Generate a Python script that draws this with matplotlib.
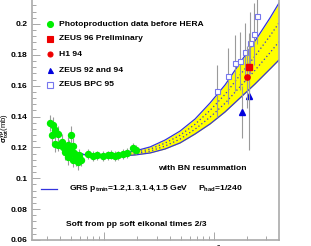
import numpy as np
import matplotlib
matplotlib.use("Agg")
import matplotlib.pyplot as plt
from matplotlib.ticker import FixedLocator, NullFormatter, MultipleLocator

plt.rcParams['font.family'] = ['Liberation Sans', 'DejaVu Sans']
plt.rcParams['mathtext.fontset'] = 'custom'
plt.rcParams['mathtext.rm'] = 'Liberation Sans:bold'
plt.rcParams['mathtext.it'] = 'Liberation Sans:bold'
plt.rcParams['mathtext.bf'] = 'Liberation Sans:bold'

# ---------------- data ----------------
# photoproduction data before HERA
low_s = [3.23, 3.44, 3.37, 3.6, 3.84, 3.6, 3.84, 4.15, 4.24, 4.65, 4.75, 4.96, 5.2,
         4.96, 5.3, 5.55, 5.9, 6.2, 5.8, 4.65, 5.2, 4.42,
         7.2, 7.9, 8.7, 9.8, 10.9, 11.6, 12.6, 13.5, 14.9, 16.2, 18.4, 19.6]
low_sig = [0.1358, 0.1345, 0.1280, 0.1310, 0.1290, 0.1220, 0.1215, 0.1235, 0.1200, 0.1215, 0.1197, 0.1280, 0.1210,
           0.1164, 0.1164, 0.1130, 0.1150, 0.1120, 0.1105, 0.1138, 0.1120, 0.1170,
           0.1157, 0.1145, 0.1150, 0.1145, 0.1150, 0.1152, 0.1145, 0.1148, 0.1157, 0.1164, 0.1197, 0.1185]
low_err = [0.005, 0.005, 0.005, 0.005, 0.005, 0.005, 0.004, 0.005, 0.005, 0.005, 0.005, 0.006, 0.005,
           0.005, 0.005, 0.005, 0.004, 0.004, 0.005, 0.005, 0.005, 0.005,
           0.003, 0.003, 0.003, 0.003, 0.003, 0.003, 0.003, 0.003, 0.003, 0.003, 0.003, 0.003]

zeus96_s, zeus96_sig, zeus96_err = [208.0], [0.172], [0.022]
h1_s, h1_sig, h1_err = [200.0], [0.1656], [0.020]
zeus9294_s, zeus9294_sig, zeus9294_err = [180.0, 208.0], [0.143, 0.1533], [0.017, 0.035]
bpc_s = [106.5, 134.0, 155.0, 172.0, 191.0, 212.0, 231.0, 246.0]
bpc_sig = [0.1566, 0.1663, 0.1747, 0.1760, 0.1818, 0.1877, 0.1935, 0.2052]
bpc_err = [0.017, 0.018, 0.018, 0.019, 0.019, 0.020, 0.020, 0.018]

# GRS band with BN resummation
curve_s = [5.33, 7.46, 10.2, 14.0, 19.1, 26.2, 35.9, 49.1, 67.2, 92.0, 126.0, 172.0, 236.0, 323.0, 390.0]
curve_upper = [0.1164, 0.1148, 0.1144, 0.1157, 0.1177, 0.1203, 0.1248, 0.1306, 0.1384, 0.1488, 0.1605, 0.1747, 0.1890, 0.2039, 0.2136]
curve_mid1 = [0.1164, 0.1148, 0.1143, 0.1152, 0.1168, 0.1189, 0.1228, 0.1279, 0.1350, 0.1440, 0.1544, 0.1668, 0.1792, 0.1923, 0.2007]
curve_mid2 = [0.1164, 0.1148, 0.1142, 0.1148, 0.1159, 0.1176, 0.1209, 0.1254, 0.1318, 0.1396, 0.1486, 0.1593, 0.1700, 0.1814, 0.1885]
curve_lower = [0.1164, 0.1148, 0.1141, 0.1144, 0.1151, 0.1164, 0.1190, 0.1229, 0.1287, 0.1352, 0.1430, 0.1520, 0.1611, 0.1708, 0.1767]

xticks = [10, 100]
xticklabels = ['10', '$10^{2}$']
yticks = [0.06, 0.08, 0.1, 0.12, 0.14, 0.16, 0.18, 0.2]
yticklabels = ['0.06', '0.08', '0.1', '0.12', '0.14', '0.16', '0.18', '0.2']

# ---------------- figure ----------------
W, H = 311, 246
fig = plt.figure(figsize=(W / 100, H / 100), dpi=100)
ax_bottom_px = 6
ylo, yhi = 0.06, 0.22
px_per_unit = 1543.0
ax_h_px = (yhi - ylo) * px_per_unit
ax = fig.add_axes([32 / W, ax_bottom_px / H, (279 - 32) / W, ax_h_px / H])
ax.set_xscale('log')
ax.set_xlim(2.21, 390)
ax.set_ylim(ylo, yhi)

grey = '#9a9a9a'
blue = '#3333dd'

ax.fill_between(curve_s, curve_lower, curve_upper, color='#ffff00', zorder=1, lw=0)
ax.plot(curve_s, curve_upper, color=blue, lw=0.9, zorder=2)
ax.plot(curve_s, curve_lower, color=blue, lw=0.9, zorder=2)
ax.plot(curve_s, curve_mid1, color=blue, lw=0.9, ls=(0, (1, 2)), zorder=2)
ax.plot(curve_s, curve_mid2, color=blue, lw=0.9, ls=(0, (1, 2)), zorder=2)

ax.errorbar(low_s, low_sig, yerr=low_err, fmt='o', ms=4.3, color='#00ee00', mec='#00ee00',
            ecolor=grey, elinewidth=0.8, capsize=0, zorder=3)
ax.errorbar(bpc_s, bpc_sig, yerr=bpc_err, fmt='s', ms=3.6, mfc='white', mec='#7777ee', mew=0.8,
            ecolor=grey, elinewidth=0.8, capsize=0, zorder=3)
ax.errorbar(zeus9294_s, zeus9294_sig, yerr=zeus9294_err, fmt='^', ms=3.8, color='#0000dd',
            ecolor=grey, elinewidth=0.8, capsize=0, zorder=3)
ax.errorbar(h1_s, h1_sig, yerr=h1_err, fmt='o', ms=3.8, color='#ee0000',
            ecolor=grey, elinewidth=0.8, capsize=0, zorder=4)
ax.errorbar(zeus96_s, zeus96_sig, yerr=zeus96_err, fmt='s', ms=4.0, color='#ee0000',
            ecolor=grey, elinewidth=0.8, capsize=0, zorder=4)

# axes styling
for side in ['left', 'bottom', 'right', 'top']:
    ax.spines[side].set_color('#aaaaaa')
    ax.spines[side].set_linewidth(1.2)
ax.set_xticks(xticks)
ax.set_xticklabels(xticklabels, fontsize=6.1, fontweight='bold')
ax.xaxis.set_minor_locator(FixedLocator([m * d for d in [1, 10, 100] for m in range(2, 10)]))
ax.xaxis.set_minor_formatter(NullFormatter())
ax.set_yticks(yticks)
ax.set_yticklabels(yticklabels, fontsize=6.1, fontweight='bold')
ax.yaxis.set_minor_locator(MultipleLocator(0.004))
ax.tick_params(axis='both', which='both', direction='in', color='#999999', width=0.6,
               top=False, right=False)
ax.tick_params(axis='x', which='major', length=6, pad=9.0)
ax.tick_params(axis='x', which='minor', length=3)
ax.tick_params(axis='y', which='major', length=6, pad=3.3)
ax.tick_params(axis='y', which='minor', length=3)
for lbl in ax.get_xticklabels():
    lbl.set_verticalalignment('baseline')

def fx(x):
    return x / W

def fy(y):
    return 1 - y / H

# y label
fig.text(fx(5.3), fy(128), r'$\sigma^{\gamma p}_{tot}$(mb)', rotation=90, ha='center', va='center',
         fontsize=5.6)

# legend
leg_items = [
    ('o', '#00ee00', '#00ee00', 4.3, 'Photoproduction data before HERA'),
    ('s', '#ee0000', '#ee0000', 3.8, 'ZEUS 96 Preliminary'),
    ('o', '#ee0000', '#ee0000', 3.6, 'H1 94'),
    ('^', '#0000dd', '#0000dd', 3.6, 'ZEUS 92 and 94'),
    ('s', 'white', '#7777ee', 3.8, 'ZEUS BPC 95'),
]
leg_y = [24, 39, 54, 70, 85]
for (mk, fc, ec, ms, lab), yy in zip(leg_items, leg_y):
    fig.lines.append(plt.Line2D([fx(50)], [fy(yy)], transform=fig.transFigure, marker=mk, ms=ms,
                                mfc=fc, mec=ec, mew=0.8, ls='none'))
    fig.text(fx(59), fy(yy), lab, ha='left', va='center', fontsize=6.1, fontweight='bold')

fig.text(fx(158), fy(169), 'with BN resummation', ha='left', va='center', fontsize=6.1, fontweight='bold')
fig.lines.append(plt.Line2D([fx(41), fx(57)], [fy(189), fy(189)], transform=fig.transFigure,
                            color=blue, lw=0.9))
fig.text(fx(69), fy(189), r'GRS p$_{\rm tmin}$=1.2,1.3,1.4,1.5 GeV', ha='left', va='center',
         fontsize=6.1, fontweight='bold')
fig.text(fx(198), fy(189), r'P$_{\rm had}$=1/240', ha='left', va='center', fontsize=6.1, fontweight='bold')
fig.text(fx(66), fy(224), 'Soft from pp soft eikonal times 2/3', ha='left', va='center',
         fontsize=6.1, fontweight='bold')

fig.savefig('out.png', dpi=100)
